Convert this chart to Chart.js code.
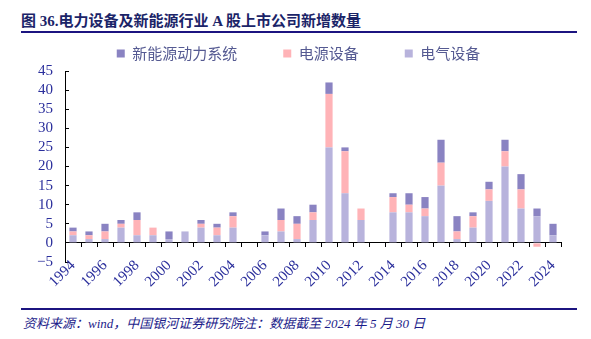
<!DOCTYPE html>
<html>
<head>
<meta charset="utf-8">
<script src="https://cdn.jsdelivr.net/npm/chart.js@4/dist/chart.umd.min.js"></script>
<style>
  body { margin: 0; width: 591px; height: 339px; background: #fff; position: relative; overflow: hidden; }
  #title { position: absolute; left: 21px; top: 9px; font: bold 15px "Liberation Serif", "Noto Sans CJK SC", serif; color: #1b2468; white-space: nowrap; }
  #line1 { position: absolute; left: 21px; top: 31px; width: 556px; height: 2px; background: #1c1480; }
  #line2 { position: absolute; left: 21px; top: 308px; width: 556px; height: 2px; background: #1c1480; }
  #source { position: absolute; left: 23px; top: 313px; font: italic 13px "Liberation Serif", "Noto Sans CJK SC", serif; color: #1c1c8a; white-space: nowrap; }
  #wrap { position: absolute; left: 0; top: 0; width: 591px; height: 294px; }
</style>
</head>
<body>
<div id="title">图 36.电力设备及新能源行业 A 股上市公司新增数量</div>
<div id="line1"></div>
<div id="wrap"><canvas id="grafico"></canvas></div>
<div id="line2"></div>
<div id="source">资料来源：wind，中国银河证券研究院注：数据截至 2024 年 5 月 30 日</div>
<script>
const anos = ['1994','1995','1996','1997','1998','1999','2000','2001','2002','2003','2004','2005','2006','2007','2008','2009','2010','2011','2012','2013','2014','2015','2016','2017','2018','2019','2020','2021','2022','2023','2024']
const eletrico = [2,1,1,4,2,2,1,3,4,2,4,0,2,3,1,6,25,13,6,0,8,8,7,15,1,4,11,20,9,7,2]
const fonte = [1,1,2,1,4,2,0,0,1,2,3,0,0,3,4,2,14,11,3,0,4,2,2,6,2,3,3,4,5,-1,0]
const novaEnergia = [1,1,2,1,2,0,2,0,1,1,1,0,1,3,2,2,3,1,0,0,1,3,3,6,4,1,2,3,4,2,3]
const yTicks = [-5,0,5,10,15,20,25,30,35,40,45]

const ctx = document.getElementById('grafico')
const corTexto = '#2b2f9c'
const fonteEixo = { family: '"Liberation Serif", serif', size: 15 }

new Chart(ctx, {
  type: 'bar',
  data: {
    labels: anos,
    datasets: [
      { label: '电气设备', data: eletrico, backgroundColor: '#b8b3dc', xAxisID: 'x' },
      { label: '电源设备', data: fonte, backgroundColor: '#ffb3b7', xAxisID: 'x' },
      { label: '新能源动力系统', data: novaEnergia, backgroundColor: '#8a83c2', xAxisID: 'x' }
    ]
  },
  options: {
    responsive: true,
    maintainAspectRatio: false,
    animation: false,
    layout: { padding: { left: 36, right: 30, top: 0, bottom: 0 } },
    datasets: { bar: { barPercentage: 0.45, categoryPercentage: 1 } },
    plugins: {
      legend: {
        reverse: true,
        labels: {
          boxWidth: 8,
          boxHeight: 8,
          padding: 46,
          color: '#555a92',
          font: { family: '"Noto Sans CJK SC", sans-serif', size: 15 }
        }
      },
      tooltip: { enabled: false }
    },
    scales: {
      // eixo de baixo: so reserva o espaco dos rotulos
      x: {
        stacked: true,
        grid: { display: false },
        border: { display: false },
        ticks: { display: false },
        afterFit: (s) => { s.height = 32 }
      },
      // linha do zero com os tracinhos e os anos
      x0: {
        type: 'category',
        labels: anos,
        position: { y: 0 },
        offset: true,
        grid: { offset: true, drawOnChartArea: false, tickLength: 4, color: '#000' },
        border: { color: '#000', width: 1 },
        ticks: {
          autoSkip: false,
          maxRotation: 45,
          minRotation: 45,
          padding: 10,
          color: corTexto,
          font: fonteEixo,
          callback: (v, i) => (i % 2 === 0 ? anos[i] : '')
        }
      },
      y: {
        stacked: true,
        min: -5,
        max: 45,
        afterBuildTicks: (s) => { s.ticks = yTicks.map(v => ({ value: v })) },
        grid: { drawOnChartArea: false, tickLength: -4, color: '#000' },
        border: { color: '#000', width: 1 },
        ticks: {
          autoSkip: false,
          color: corTexto,
          font: fonteEixo,
          padding: 16,
          callback: (v) => (v < 0 ? '\u2212' + Math.abs(v) : String(v))
        },
        afterFit: (s) => { s.width = 29 }
      }
    }
  }
})
</script>
</body>
</html>
